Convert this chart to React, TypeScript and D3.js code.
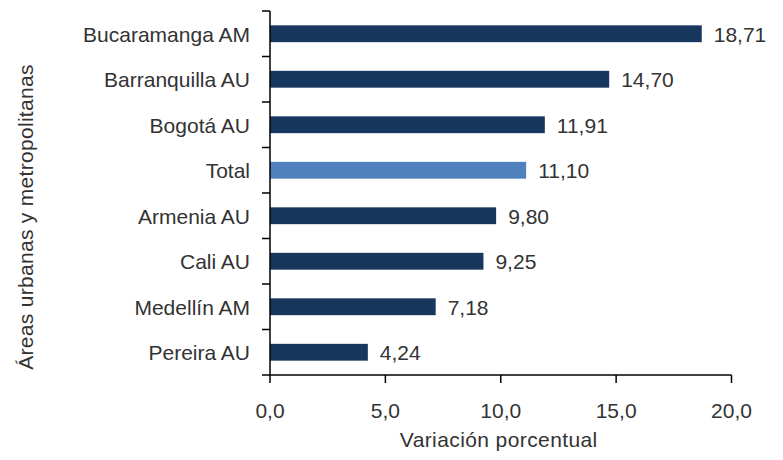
import React from "react";
import * as d3 from "d3";

const categories = ["Bucaramanga AM", "Barranquilla AU", "Bogotá AU", "Total", "Armenia AU", "Cali AU", "Medellín AM", "Pereira AU"];
const values = [18.71, 14.7, 11.91, 11.1, 9.8, 9.25, 7.18, 4.24];
const xTicks = [0, 5, 10, 15, 20];
const xTitle = "Variación porcentual";
const yTitle = "Áreas urbanas y metropolitanas";

const W = 783;
const H = 460;
const left = 270;
const right = 731.5;
const top = 11;
const bottom = 375;
const font = "Arial, 'Liberation Sans', sans-serif";
const textColor = "#333333";
const fs = 21;

export default function App() {
  const x = d3.scaleLinear().domain([0, 20]).range([left, right]);
  const y = d3.scaleBand<string>().domain(categories).range([top, bottom]).paddingInner(0.63).paddingOuter(0.315);
  const band = d3.scaleBand<string>().domain(categories).range([top, bottom]);
  const fmt = (v: number) => v.toFixed(2).replace(".", ",");
  const fmtTick = (v: number) => v.toFixed(1).replace(".", ",");
  return (
    <svg width={W} height={H} style={{ position: "absolute", left: 0, top: 0 }} fontFamily={font}>
      <rect width={W} height={H} fill="#ffffff" />
      {categories.map((c, i) => (
        <g key={c}>
          <rect
            x={x(0)}
            y={y(c)!}
            width={x(values[i]) - x(0)}
            height={y.bandwidth()}
            fill={c === "Total" ? "#4F81BD" : "#17375E"}
          />
          <text
            x={x(values[i]) + 12}
            y={y(c)! + y.bandwidth() / 2}
            dy="0.37em"
            fontSize={fs}
            fill={textColor}
          >
            {fmt(values[i])}
          </text>
          <text
            x={left - 20}
            y={band(c)! + band.bandwidth() / 2}
            dy="0.37em"
            fontSize={fs}
            textAnchor="end"
            fill={textColor}
          >
            {c}
          </text>
        </g>
      ))}
      {/* y axis */}
      <line x1={left} x2={left} y1={top} y2={bottom} stroke="#000" strokeWidth={1.5} />
      {categories.map((c) => (
        <line key={"yt" + c} x1={left - 8} x2={left} y1={band(c)!} y2={band(c)!} stroke="#000" strokeWidth={1.5} />
      ))}
      {/* x axis */}
      <line x1={left - 8} x2={right} y1={bottom} y2={bottom} stroke="#000" strokeWidth={1.5} />
      {xTicks.map((t) => (
        <g key={"xt" + t}>
          <line x1={x(t)} x2={x(t)} y1={bottom} y2={bottom + 8} stroke="#000" strokeWidth={1.5} />
          <text x={x(t)} y={418} textAnchor="middle" fontSize={fs} fill={textColor}>
            {fmtTick(t)}
          </text>
        </g>
      ))}
      <text x={(left + right) / 2 - 2} y={447} textAnchor="middle" fontSize={fs} letterSpacing={0.4} fill={textColor}>
        {xTitle}
      </text>
      <text
        transform={`translate(33, 217) rotate(-90)`}
        textAnchor="middle"
        fontSize={fs}
        letterSpacing={0.3}
        fill={textColor}
      >
        {yTitle}
      </text>
    </svg>
  );
}
